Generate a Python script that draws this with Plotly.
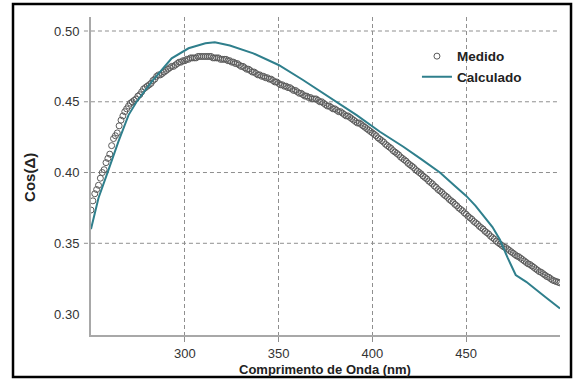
import plotly.graph_objects as go

# Measured data (Medido), one reading per nm from 250 to 500
med_x = list(range(250, 501))
med_y = [
    0.3735, 0.380, 0.385, 0.388, 0.391, 0.396, 0.400, 0.402, 0.407, 0.410,   # 250-259
    0.413, 0.419, 0.424, 0.426, 0.428, 0.433, 0.437, 0.440, 0.443, 0.445,    # 260-269
    0.447, 0.449, 0.450, 0.451, 0.452, 0.454, 0.455, 0.457, 0.459, 0.460,    # 270-279
    0.461, 0.462, 0.463, 0.465, 0.466, 0.468, 0.469, 0.469, 0.470, 0.471,    # 280-289
    0.472, 0.473, 0.474, 0.475, 0.475, 0.476, 0.477, 0.478, 0.478, 0.479,    # 290-299
    0.479, 0.480, 0.480, 0.481, 0.481, 0.481, 0.481, 0.482, 0.482, 0.482,    # 300-309
    0.482, 0.482, 0.482, 0.482, 0.482, 0.481, 0.481, 0.481, 0.481, 0.480,    # 310-319
    0.480, 0.480, 0.480, 0.479, 0.479, 0.478, 0.478, 0.477, 0.477, 0.476,    # 320-329
    0.475, 0.475, 0.474, 0.473, 0.473, 0.472, 0.471, 0.471, 0.470, 0.469,    # 330-339
    0.469, 0.468, 0.468, 0.467, 0.467, 0.466, 0.466, 0.465, 0.464, 0.464,    # 340-349
    0.463, 0.462, 0.462, 0.461, 0.461, 0.460, 0.460, 0.459, 0.458, 0.458,    # 350-359
    0.457, 0.456, 0.456, 0.455, 0.454, 0.454, 0.453, 0.453, 0.452, 0.452,    # 360-369
    0.452, 0.451, 0.450, 0.450, 0.449, 0.448, 0.447, 0.447, 0.446, 0.445,    # 370-379
    0.445, 0.444, 0.443, 0.443, 0.442, 0.441, 0.440, 0.440, 0.439, 0.438,    # 380-389
    0.437, 0.436, 0.435, 0.435, 0.434, 0.433, 0.432, 0.431, 0.430, 0.429,    # 390-399
    0.428, 0.427, 0.426, 0.4245, 0.4235, 0.4225, 0.4215, 0.420, 0.419, 0.418,  # 400-409
    0.417, 0.4155, 0.4145, 0.4135, 0.4125, 0.411, 0.410, 0.409, 0.408, 0.4065,  # 410-419
    0.4055, 0.4045, 0.4035, 0.402, 0.401, 0.400, 0.399, 0.3975, 0.3965, 0.3955,  # 420-429
    0.394, 0.393, 0.392, 0.3905, 0.3895, 0.388, 0.387, 0.386, 0.3845, 0.3835,  # 430-439
    0.3825, 0.381, 0.380, 0.379, 0.3775, 0.3765, 0.375, 0.374, 0.373, 0.3715,  # 440-449
    0.3705, 0.369, 0.368, 0.367, 0.3655, 0.3645, 0.3635, 0.362, 0.361, 0.360,  # 450-459
    0.3585, 0.3575, 0.3565, 0.355, 0.354, 0.353, 0.3515, 0.3505, 0.3495, 0.3485,  # 460-469
    0.3475, 0.347, 0.346, 0.345, 0.344, 0.343, 0.342, 0.341, 0.3405, 0.3395,  # 470-479
    0.3385, 0.3375, 0.3365, 0.3355, 0.335, 0.334, 0.333, 0.332, 0.331, 0.330,  # 480-489
    0.3295, 0.3285, 0.3275, 0.3265, 0.326, 0.325, 0.324, 0.3235, 0.323, 0.3225,  # 490-499
    0.322,                                                                     # 500
]

# Calculated data (Calculado)
calc_x = [250, 254, 259, 264.6, 270, 274.3, 282.4, 293, 302, 311, 316, 324,
          336.5, 350, 363, 379, 391.6, 404, 416.5, 426, 436, 444, 450, 455,
          460, 464, 468, 472, 476.4, 482, 492, 500]
calc_y = [0.360, 0.382, 0.4006, 0.4218, 0.4406, 0.450, 0.4642, 0.4807, 0.4878,
          0.4913, 0.492, 0.4897, 0.4842, 0.476, 0.4654, 0.4512, 0.4406, 0.4288,
          0.4182, 0.4095, 0.400, 0.3905, 0.3835, 0.3765, 0.3685, 0.3615,
          0.3525, 0.340, 0.3276, 0.3228, 0.3122, 0.304]

x_ticks = [300, 350, 400, 450]
y_ticks = [0.30, 0.35, 0.40, 0.45, 0.50]
y_grid = [0.35, 0.40, 0.45, 0.50]

FONT = "Liberation Sans, Arial, sans-serif"
GRID = "#8f8f8f"

fig = go.Figure()
fig.add_trace(go.Scatter(
    x=med_x, y=med_y, mode="markers", name="Medido",
    marker=dict(symbol="circle-open", size=6, color="#5a5a5a",
                line=dict(width=1, color="#5a5a5a")),
))
fig.add_trace(go.Scatter(
    x=calc_x, y=calc_y, mode="lines", name="Calculado",
    line=dict(color="#2f7f8c", width=2),
))

shapes = []
for v in y_grid:
    shapes.append(dict(type="line", xref="paper", yref="y", x0=-0.015, x1=1.0,
                       y0=v, y1=v, layer="below",
                       line=dict(color=GRID, width=1, dash="4px,3px")))
# outer frame
shapes.append(dict(type="rect", xref="paper", yref="paper",
                   x0=-0.1663, x1=1.0235, y0=-0.1321, y1=1.0409,
                   line=dict(color="black", width=2.5)))

annotations = [
    dict(text="<b>Comprimento de Onda (nm)</b>", xref="paper", yref="paper",
         x=0.499, y=-0.110, xanchor="center", yanchor="middle", showarrow=False,
         font=dict(family=FONT, size=13, color="#222222")),
    dict(text="<b>Cos(Δ)</b>", xref="paper", yref="paper",
         x=-0.130, y=0.494, xanchor="center", yanchor="middle", showarrow=False,
         textangle=-90, font=dict(family=FONT, size=15, color="#222222")),
]

fig.update_layout(
    width=573, height=379,
    margin=dict(l=91, r=13, t=17, b=44),
    paper_bgcolor="white", plot_bgcolor="white",
    font=dict(family=FONT, size=13, color="#333333"),
    showlegend=True,
    legend=dict(x=0.695, y=0.925, xanchor="left", yanchor="top",
                bgcolor="rgba(0,0,0,0)", itemwidth=30,
                font=dict(family=FONT, size=13.5, color="#222222", weight="bold"),
                tracegroupgap=0),
    shapes=shapes,
    annotations=annotations,
    xaxis=dict(range=[250, 500], tickvals=x_ticks, showgrid=True,
               gridcolor=GRID, griddash="4px,3px", gridwidth=1,
               showline=True, linecolor="#a8a8a8", linewidth=2,
               ticks="outside", ticklen=5, tickcolor=GRID,
               zeroline=False, automargin=False),
    yaxis=dict(range=[0.2852, 0.5099], tickvals=y_ticks, tickformat=".2f",
               showgrid=False, showline=True, linecolor="#a8a8a8",
               linewidth=2, ticks="outside", ticklen=7,
               tickcolor="rgba(0,0,0,0)", zeroline=False, automargin=False),
)

fig.write_html("out.html")
